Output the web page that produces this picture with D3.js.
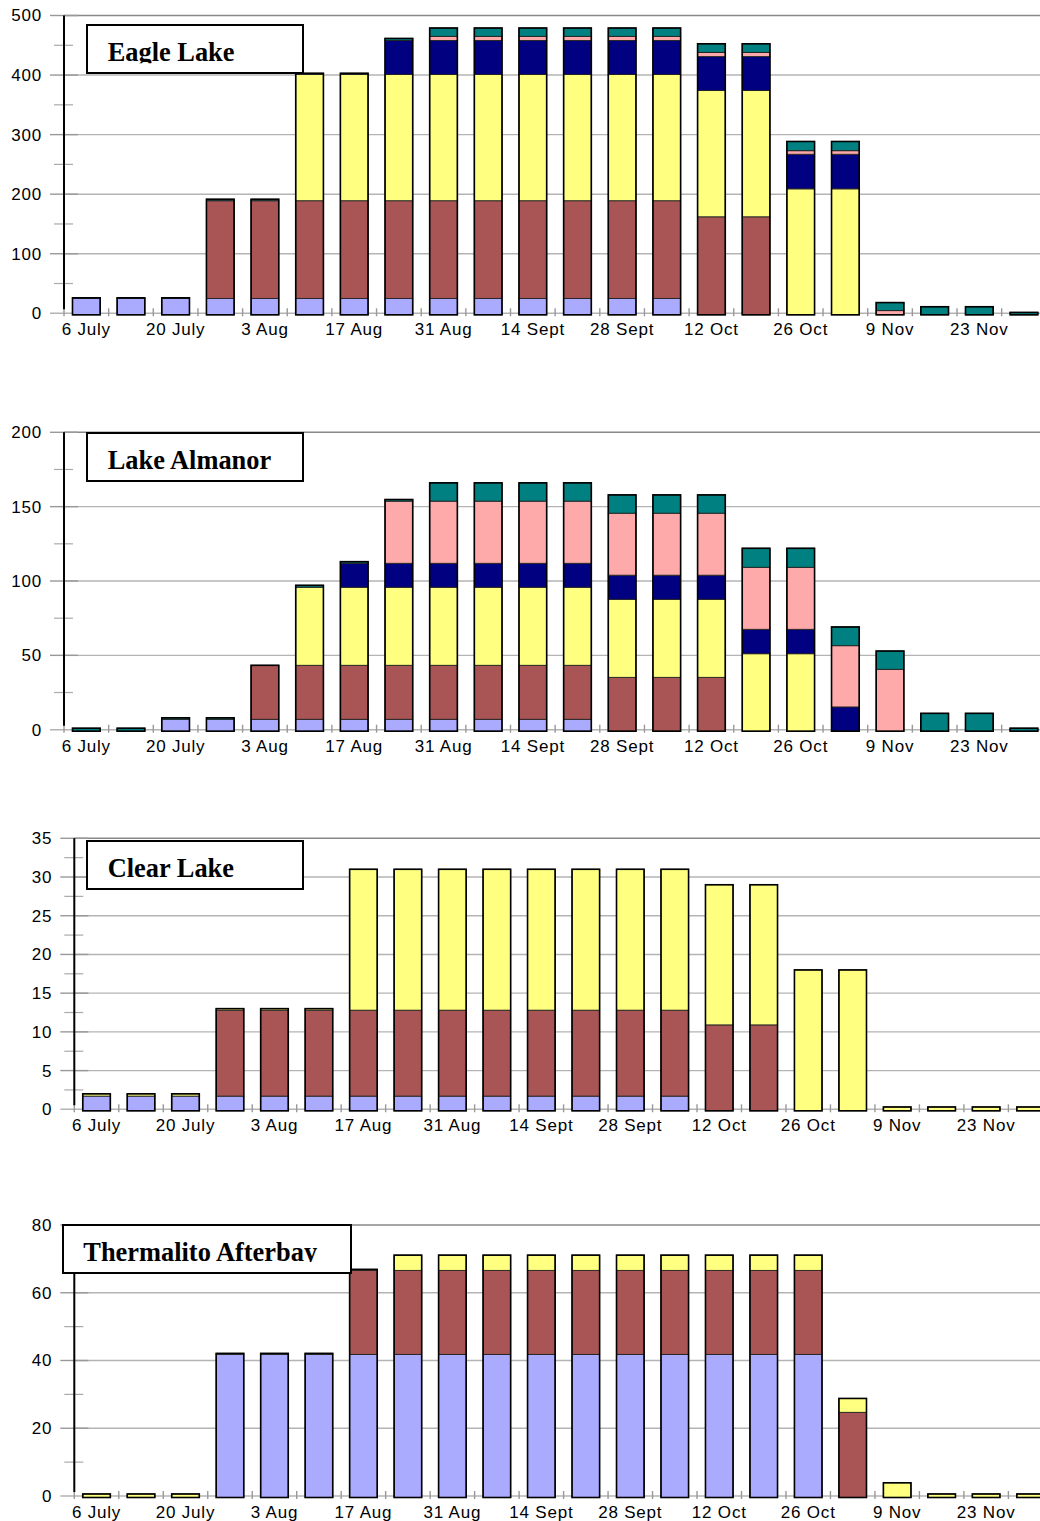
<!DOCTYPE html>
<html><head><meta charset="utf-8">
<script src="https://cdn.jsdelivr.net/npm/d3@7"></script>
<style>
body{margin:0;background:#fff;}
svg{display:block;}
.lbl text{font-family:"Liberation Sans",Arial,sans-serif;font-size:17px;fill:#000;letter-spacing:0.8px;}
.title{font-family:"Liberation Serif","Times New Roman",serif;font-weight:bold;font-size:26.4px;fill:#000;}
</style></head><body>
<svg id="c" width="1040" height="1521"></svg>
<script>
// ---------- data ----------
const categories = ["6 July","13 July","20 July","27 July","3 Aug","10 Aug","17 Aug","24 Aug","31 Aug","7 Sept","14 Sept","21 Sept","28 Sept","5 Oct","12 Oct","19 Oct","26 Oct","2 Nov","9 Nov","16 Nov","23 Nov","30 Nov"];
const tickLabels = ["6 July","20 July","3 Aug","17 Aug","31 Aug","14 Sept","28 Sept","12 Oct","26 Oct","9 Nov","23 Nov"];
const seriesKeys = ["lavender","brown","yellow","navy","pink","teal"];
const seriesColors = ["#aaaaff","#aa5555","#ffff80","#000080","#ffaaaa","#008080"];

// Eagle Lake
const eagleLavender = [25,25,25,25,25,25,25,25,25,25,25,25,25,25,0,0,0,0,0,0,0,0];
const eagleBrown    = [0,0,0,164,164,164,164,164,164,164,164,164,164,164,162,162,0,0,0,0,0,0];
const eagleYellow   = [0,0,0,0,0,212,212,212,212,212,212,212,212,212,212,212,209,209,0,0,0,0];
const eagleNavy     = [0,0,0,0,0,0,0,57,57,57,57,57,57,57,57,57,58,58,0,0,0,0];
const eaglePink     = [0,0,0,0,0,0,0,0,7,7,7,7,7,7,7,7,6,6,4.5,0,0,0];
const eagleTeal     = [1,1,1,2.5,2.5,2,2,3.5,14,14,14,14,14,14,14.5,14.5,15.5,15.5,13.5,11,11,1.5];

// Lake Almanor
const almanorLavender = [0,0,7,7,7,7,7,7,7,7,7,7,0,0,0,0,0,0,0,0,0,0];
const almanorBrown    = [0,0,0,0,36.3,36.3,36.3,36.3,36.3,36.3,36.3,36.3,35.2,35.2,35.2,0,0,0,0,0,0,0];
const almanorYellow   = [0,0,0,0,0,52.5,52.5,52.5,52.5,52.5,52.5,52.5,52.5,52.5,52.5,51.1,51.1,0,0,0,0,0];
const almanorNavy     = [0,0,0,0,0,0,16.1,16.1,16.1,16.1,16.1,16.1,16.2,16.2,16.2,16.4,16.4,15.3,0,0,0,0];
const almanorPink     = [0,0,0,0,0,0,0,41.8,41.8,41.8,41.8,41.8,41.7,41.7,41.7,41.7,41.7,41.2,40.6,0,0,0];
const almanorTeal     = [1,1,1,1,0,1.3,1.1,1.1,12.3,12.3,12.3,12.3,12.3,12.3,12.3,12.8,12.8,12.6,12.3,11,11,1];

// Clear Lake
const clearLavender = [1.7,1.7,1.7,1.7,1.7,1.7,1.7,1.7,1.7,1.7,1.7,1.7,1.7,1.7,0,0,0,0,0,0,0,0];
const clearBrown    = [0,0,0,11.1,11.1,11.1,11.1,11.1,11.1,11.1,11.1,11.1,11.1,11.1,10.9,10.9,0,0,0,0,0,0];
const clearYellow   = [0.3,0.3,0.3,0.2,0.2,0.2,18.2,18.2,18.2,18.2,18.2,18.2,18.2,18.2,18.1,18.1,18,18,0.3,0.3,0.3,0.3];
const clearNavy     = new Array(22).fill(0);
const clearPink     = new Array(22).fill(0);
const clearTeal     = new Array(22).fill(0);

// Thermalito Afterbay
const thermLavender = [0,0,0,41.8,41.8,41.8,41.8,41.8,41.8,41.8,41.8,41.8,41.8,41.8,41.8,41.8,41.8,0,0,0,0,0];
const thermBrown    = [0,0,0,0,0,0,24.8,24.8,24.8,24.8,24.8,24.8,24.8,24.8,24.8,24.8,24.8,24.7,0,0,0,0];
const thermYellow   = [0.6,0.6,0.6,0.3,0.3,0.3,0.3,4.5,4.5,4.5,4.5,4.5,4.5,4.5,4.5,4.5,4.5,4.1,3.9,0.6,0.6,0.6];
const thermNavy     = new Array(22).fill(0);
const thermPink     = new Array(22).fill(0);
const thermTeal     = new Array(22).fill(0);

// ---------- layout ----------
const panels = [
  {title:"Eagle Lake", series:[eagleLavender,eagleBrown,eagleYellow,eagleNavy,eaglePink,eagleTeal],
   yMax:500, major:100, axisX:64, top:15.5, zero:313.3, step:44.65,
   box:{x:87,y:25,w:216,h:48}, tx:107.7, base:61, clip:63.3},
  {title:"Lake Almanor", series:[almanorLavender,almanorBrown,almanorYellow,almanorNavy,almanorPink,almanorTeal],
   yMax:200, major:50, axisX:64, top:432.3, zero:729.7, step:44.65,
   box:{x:87,y:433,w:216,h:48}, tx:107.7, base:469.3, clip:480},
  {title:"Clear Lake", series:[clearLavender,clearBrown,clearYellow,clearNavy,clearPink,clearTeal],
   yMax:35, major:5, axisX:74.3, top:838.3, zero:1109.3, step:44.48,
   box:{x:87,y:841,w:216,h:48}, tx:107.7, base:877.3, clip:888},
  {title:"Thermalito Afterbay", series:[thermLavender,thermBrown,thermYellow,thermNavy,thermPink,thermTeal],
   yMax:80, major:20, axisX:74.3, top:1225, zero:1496, step:44.48,
   box:{x:63,y:1225,w:288,h:48}, tx:83.3, base:1260.7, clip:1262}
];

const svg = d3.select("#c");
const W = 1040;
const baseDrop = 1.5; // bars sit slightly below the zero line, as in the original

panels.forEach((p, pi) => {
  const g = svg.append("g");
  const x = d3.scaleBand().domain(categories)
      .range([p.axisX, p.axisX + p.step * categories.length])
      .paddingInner(0.38).paddingOuter(0.19);
  const y = d3.scaleLinear().domain([0, p.yMax]).range([p.zero, p.top]);

  const majors = d3.range(0, p.yMax + 1e-9, p.major);
  const minors = majors.slice(0, -1).map(v => v + p.major / 2);

  // gridlines
  g.selectAll(".grid").data(majors).join("line")
    .attr("x1", d => d === 0 ? p.axisX - 14 : p.axisX).attr("x2", W)
    .attr("y1", d => y(d)).attr("y2", d => y(d))
    .attr("stroke", d => d === p.yMax ? "#888" : "#b4b4b4")
    .attr("stroke-width", 1.4);
  // major ticks
  g.selectAll(".mt").data(majors.filter(d => d > 0)).join("line")
    .attr("x1", p.axisX - 14).attr("x2", p.axisX + 14)
    .attr("y1", d => y(d)).attr("y2", d => y(d))
    .attr("stroke", "#999").attr("stroke-width", 1.4);
  // minor ticks
  g.selectAll(".mn").data(minors).join("line")
    .attr("x1", p.axisX - 10).attr("x2", p.axisX + 9)
    .attr("y1", d => y(d)).attr("y2", d => y(d))
    .attr("stroke", "#aaa").attr("stroke-width", 1.2);

  // category boundary ticks on x axis
  const half = (x.step() - x.bandwidth()) / 2;
  const bounds = categories.map(c => x(c) - half).concat([x(categories[categories.length-1]) + x.bandwidth() + half]);
  g.selectAll(".xt").data(bounds).join("line")
    .attr("x1", d => d).attr("x2", d => d)
    .attr("y1", y(0) - 5).attr("y2", y(0) + 3)
    .attr("stroke", "#999").attr("stroke-width", 1.4);

  // y axis line
  g.append("line").attr("x1", p.axisX).attr("x2", p.axisX)
    .attr("y1", y(p.yMax)).attr("y2", y(0) - 4)
    .attr("stroke", "#000").attr("stroke-width", 2);

  // y labels via axis
  const ya = g.append("g").attr("class", "lbl").attr("transform", `translate(${p.axisX},0)`)
    .call(d3.axisLeft(y).tickValues(majors).tickSize(0).tickPadding(22).tickFormat(d3.format("d")));
  ya.select(".domain").remove();
  ya.selectAll("text").attr("font-family", null).attr("font-size", null);

  // x labels via axis
  const xa = g.append("g").attr("class", "lbl").attr("transform", `translate(0,${y(0)})`)
    .call(d3.axisBottom(x).tickValues(tickLabels).tickSize(0).tickPadding(10));
  xa.select(".domain").remove();
  xa.selectAll("text").attr("font-family", null).attr("font-size", null);

  // bars
  const rows = categories.map((c, i) => {
    const o = {cat: c};
    seriesKeys.forEach((k, j) => o[k] = p.series[j][i]);
    return o;
  });
  const stacked = d3.stack().keys(seriesKeys)(rows);
  const color = d3.scaleOrdinal().domain(seriesKeys).range(seriesColors);
  const yb = v => v === 0 ? y(0) + baseDrop : y(v);

  const bars = g.append("g");
  stacked.forEach(layer => {
    bars.selectAll(null).data(layer.filter(d => d[1] - d[0] > 0)).join("rect")
      .attr("x", d => x(d.data.cat))
      .attr("width", x.bandwidth())
      .attr("y", d => y(d[1]))
      .attr("height", d => yb(d[0]) - y(d[1]))
      .attr("fill", color(layer.key))
      .attr("stroke", "#222").attr("stroke-width", 0.9);
  });
  const totals = rows.map(r => ({cat: r.cat, total: d3.sum(seriesKeys, k => r[k])})).filter(d => d.total > 0);
  bars.selectAll(null).data(totals).join("rect")
    .attr("x", d => x(d.cat)).attr("width", x.bandwidth())
    .attr("y", d => y(d.total)).attr("height", d => yb(0) - y(d.total))
    .attr("fill", "none").attr("stroke", "#000").attr("stroke-width", 1.6);

  // title box
  const b = p.box;
  g.append("rect").attr("x", b.x).attr("y", b.y).attr("width", b.w).attr("height", b.h)
    .attr("fill", "#fff").attr("stroke", "#000").attr("stroke-width", 2);
  const cid = "clip" + pi;
  svg.append("clipPath").attr("id", cid).append("rect")
    .attr("x", b.x).attr("y", b.y).attr("width", b.w).attr("height", p.clip - b.y);
  g.append("text").attr("class", "title").attr("x", p.tx).attr("y", p.base)
    .attr("clip-path", `url(#${cid})`).text(p.title);
});
</script>
</body></html>
